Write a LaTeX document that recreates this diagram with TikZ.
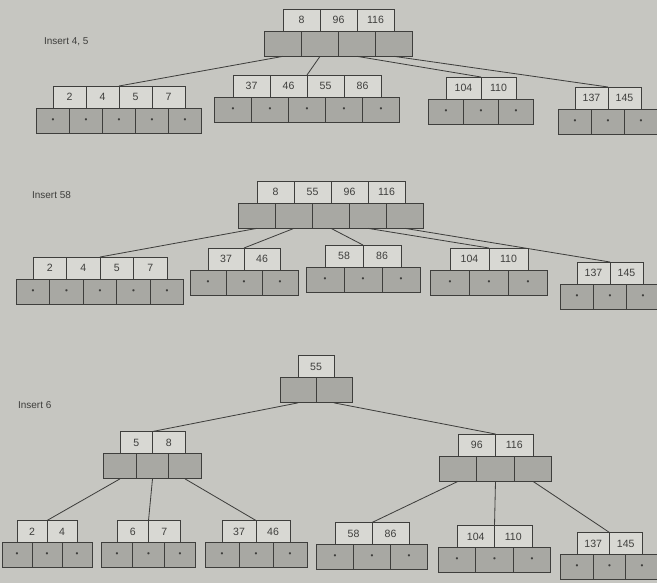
\documentclass[tikz,border=0pt]{standalone}
\usepackage{fontspec}
\setmainfont{Liberation Sans}
\usetikzlibrary{positioning, calc}
\definecolor{paper}{RGB}{198, 198, 193}
\definecolor{keygray}{RGB}{216, 216, 211}
\definecolor{ptrgray}{RGB}{168, 168, 163}
\definecolor{inkgray}{RGB}{62, 62, 60}
\newcommand{\unitpx}{0.03cm}
% one B-tree node: name, left x of key row, centre y of key row, cell width, keys, pointer mark
\newcommand{\bnode}[6]{%
  \foreach \k [count=\i] in {#5} {
    \node[keycell, minimum width=#4*\unitpx] (#1-k\i) at ({#2+(\i-0.5)*#4}, #3) {\k};
    \xdef\nk{\i}
  }
  \pgfmathtruncatemacro\np{\nk+1}
  \foreach \j in {1,...,\np} {
    \node[ptrcell, minimum width=#4*\unitpx] (#1-p\j) at ({#2+(\j-1)*#4}, {#3+23.5}) {#6};
  }
  \coordinate (#1-top) at ({#2+\nk*#4/2}, {#3-11});
}
\newcommand{\nullmark}{\scriptsize\textbullet}

\begin{document}
\begin{tikzpicture}[x=0.03cm, y=-0.03cm,
    keycell/.style={draw=inkgray, fill=keygray, line width=0.6pt, inner sep=0pt,
                    minimum height=22*\unitpx, font=\small, text=inkgray},
    ptrcell/.style={draw=inkgray, fill=ptrgray, line width=0.6pt, inner sep=0pt,
                    minimum height=25*\unitpx, text=inkgray},
    link/.style={draw=inkgray, line width=0.7pt},
    caption/.style={font=\fontsize{8.5}{10}\selectfont, text=inkgray, anchor=west}]
  \fill[paper] (0,0) rectangle (657,583);
  \useasboundingbox (0,0) rectangle (657,583);

  % after inserting 4 and 5
  \node[caption] (cap1) at (40,42) {Insert 4, 5};
  \bnode{r1}{283}{20}{37}{8,96,116}{}
  \bnode{a1}{53}{97}{33}{2,4,5,7}{\nullmark}
  \bnode{b1}{233}{86}{37}{37,46,55,86}{\nullmark}
  \bnode{c1}{446}{88}{35}{104,110}{\nullmark}
  \bnode{d1}{575}{98}{33}{137,145}{\nullmark}
  \foreach \c [count=\i] in {a1,b1,c1,d1}
    \draw[link] (r1-p\i.south) -- (\c-top);

  % after inserting 58
  \node[caption] (cap2) at (28,195) {Insert 58};
  \bnode{r2}{257}{192}{37}{8,55,96,116}{}
  \bnode{a2}{33}{268}{33.5}{2,4,5,7}{\nullmark}
  \bnode{b2}{208}{259}{36}{37,46}{\nullmark}
  \bnode{c2}{325}{256}{38}{58,86}{\nullmark}
  \bnode{d2}{450}{259}{39}{104,110}{\nullmark}
  \bnode{e2}{577}{273}{33}{137,145}{\nullmark}
  \foreach \c [count=\i] in {a2,b2,c2,d2,e2}
    \draw[link] (r2-p\i.south) -- (\c-top);

  % after inserting 6
  \node[caption] (cap3) at (14,405) {Insert 6};
  \bnode{r3}{298}{366.5}{36}{55}{}
  \bnode{l3}{120}{442.5}{32.5}{5,8}{}
  \bnode{m3}{458}{445}{37.5}{96,116}{}
  \bnode{a3}{17}{531.5}{30}{2,4}{\nullmark}
  \bnode{b3}{117}{531.5}{31.5}{6,7}{\nullmark}
  \bnode{c3}{222}{531.5}{34}{37,46}{\nullmark}
  \bnode{d3}{335}{533.5}{37}{58,86}{\nullmark}
  \bnode{e3}{457}{536.5}{37.5}{104,110}{\nullmark}
  \bnode{f3}{577}{543.5}{32.5}{137,145}{\nullmark}
  \draw[link] (r3-p1.south) -- (l3-top);
  \draw[link] (r3-p2.south) -- (m3-top);
  \foreach \c [count=\i] in {a3,b3,c3}
    \draw[link] (l3-p\i.south) -- (\c-top);
  \foreach \c [count=\i] in {d3,e3,f3}
    \draw[link] (m3-p\i.south) -- (\c-top);
\end{tikzpicture}
\end{document}
